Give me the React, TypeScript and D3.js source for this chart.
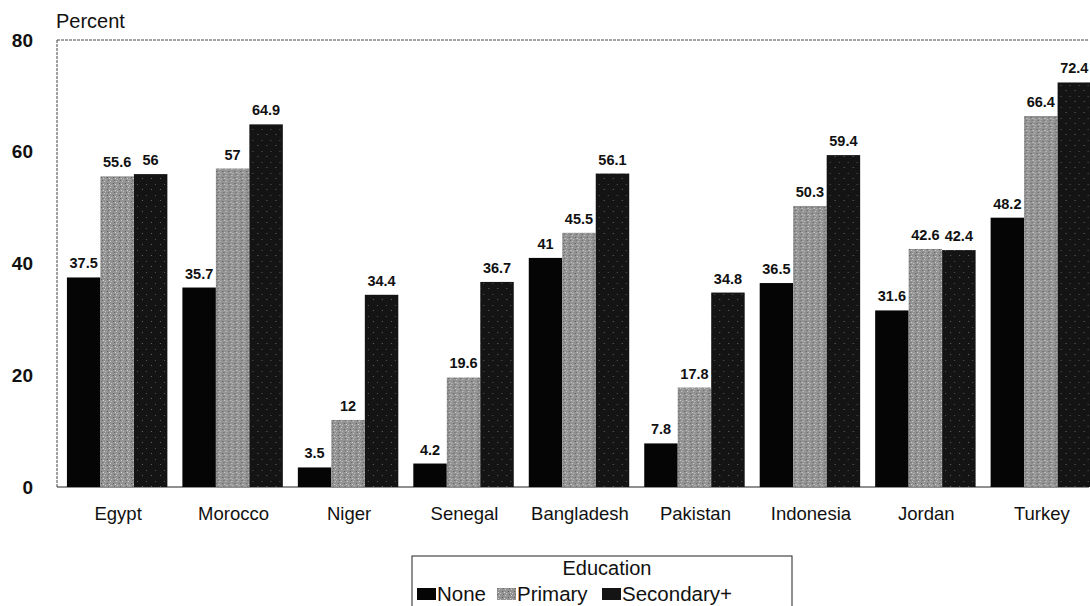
import React from "react";
import * as d3 from "d3";

const categories = ["Egypt", "Morocco", "Niger", "Senegal", "Bangladesh", "Pakistan", "Indonesia", "Jordan", "Turkey"];
const seriesNames = ["None", "Primary", "Secondary+"];
const noneValues = [37.5, 35.7, 3.5, 4.2, 41, 7.8, 36.5, 31.6, 48.2];
const primaryValues = [55.6, 57, 12, 19.6, 45.5, 17.8, 50.3, 42.6, 66.4];
const secondaryValues = [56, 64.9, 34.4, 36.7, 56.1, 34.8, 59.4, 42.4, 72.4];
const yTicks = [0, 20, 40, 60, 80];

const W = 1090;
const H = 606;
const colors = ["#050505", "#939393", "#141414"];
const font = "'Liberation Sans', Arial, sans-serif";

export default function App() {
  const series = [noneValues, primaryValues, secondaryValues];
  const x = d3.scaleBand<string>().domain(categories).range([60, 1098]).paddingInner(0.13).paddingOuter(0.06);
  const xs = d3.scaleBand<string>().domain(seriesNames).range([0, x.bandwidth()]);
  const y = d3.scaleLinear().domain([0, 80]).range([487, 40]);
  const plotL = 57, plotR = 1089;
  const legendX = [417, 497, 602];

  return (
    <svg width={W} height={H} style={{ position: "absolute", left: 0, top: 0, background: "#fff" }} fontFamily={font}>
      <defs>
        <pattern id="speckP" width="6" height="6" patternUnits="userSpaceOnUse">
          <rect width="6" height="6" fill={colors[1]} />
          <rect x="1" y="1" width="1" height="1" fill="#cfcfcf" />
          <rect x="4" y="3" width="1" height="1" fill="#5a5a5a" />
          <rect x="2" y="5" width="1" height="1" fill="#c4c4c4" />
          <rect x="5" y="0" width="1" height="1" fill="#666" />
          <rect x="0" y="4" width="1" height="1" fill="#d8d8d8" />
        </pattern>
        <pattern id="speckS" width="9" height="11" patternUnits="userSpaceOnUse">
          <rect width="9" height="11" fill={colors[2]} />
          <rect x="3" y="2" width="1" height="1" fill="#666" />
          <rect x="7" y="8" width="1" height="1" fill="#555" />
        </pattern>
      </defs>
      <text x={56} y={28} fontSize={20} fill="#111">Percent</text>
      {/* frame */}
      <line x1={plotL} x2={plotR} y1={y(80)} y2={y(80)} stroke="#444" strokeWidth={1} strokeDasharray="3 1" />
      <line x1={plotL} x2={plotL} y1={y(80)} y2={y(0)} stroke="#444" strokeWidth={1} strokeDasharray="3 1" />
      <line x1={plotL} x2={plotR} y1={y(0)} y2={y(0)} stroke="#222" strokeWidth={1.2} />
      {yTicks.map((t) => (
        <text key={t} x={33} y={y(t)} dy="0.35em" textAnchor="end" fontSize={19} fontWeight="bold" fill="#111">{t}</text>
      ))}
      {categories.map((c, i) => (
        <g key={c} transform={`translate(${x(c)},0)`}>
          {seriesNames.map((s, j) => {
            const v = series[j][i];
            const bx = xs(s)!;
            return (
              <g key={s}>
                <rect x={bx} y={y(v)} width={xs.bandwidth()} height={y(0) - y(v)}
                  fill={j === 1 ? "url(#speckP)" : j === 2 ? "url(#speckS)" : colors[0]} />
                <text x={bx + xs.bandwidth() / 2} y={y(v) - 9} textAnchor="middle" fontSize={14.5} fontWeight="bold" fill="#111">{v}</text>
              </g>
            );
          })}
          <text x={x.bandwidth() / 2 + 1} y={520} textAnchor="middle" fontSize={18.5} fill="#111">{c}</text>
        </g>
      ))}
      {/* legend */}
      <rect x={412} y={556} width={380} height={60} fill="none" stroke="#222" strokeWidth={1} />
      <text x={607} y={575} textAnchor="middle" fontSize={20} fill="#111">Education</text>
      {seriesNames.map((s, j) => {
        const lx = legendX[j];
        return (
          <g key={s}>
            <rect x={lx} y={588} width={19} height={12} fill={j === 1 ? "url(#speckP)" : colors[j]} />
            <text x={lx + 20} y={601} fontSize={20.5} fill="#111">{s}</text>
          </g>
        );
      })}
    </svg>
  );
}
